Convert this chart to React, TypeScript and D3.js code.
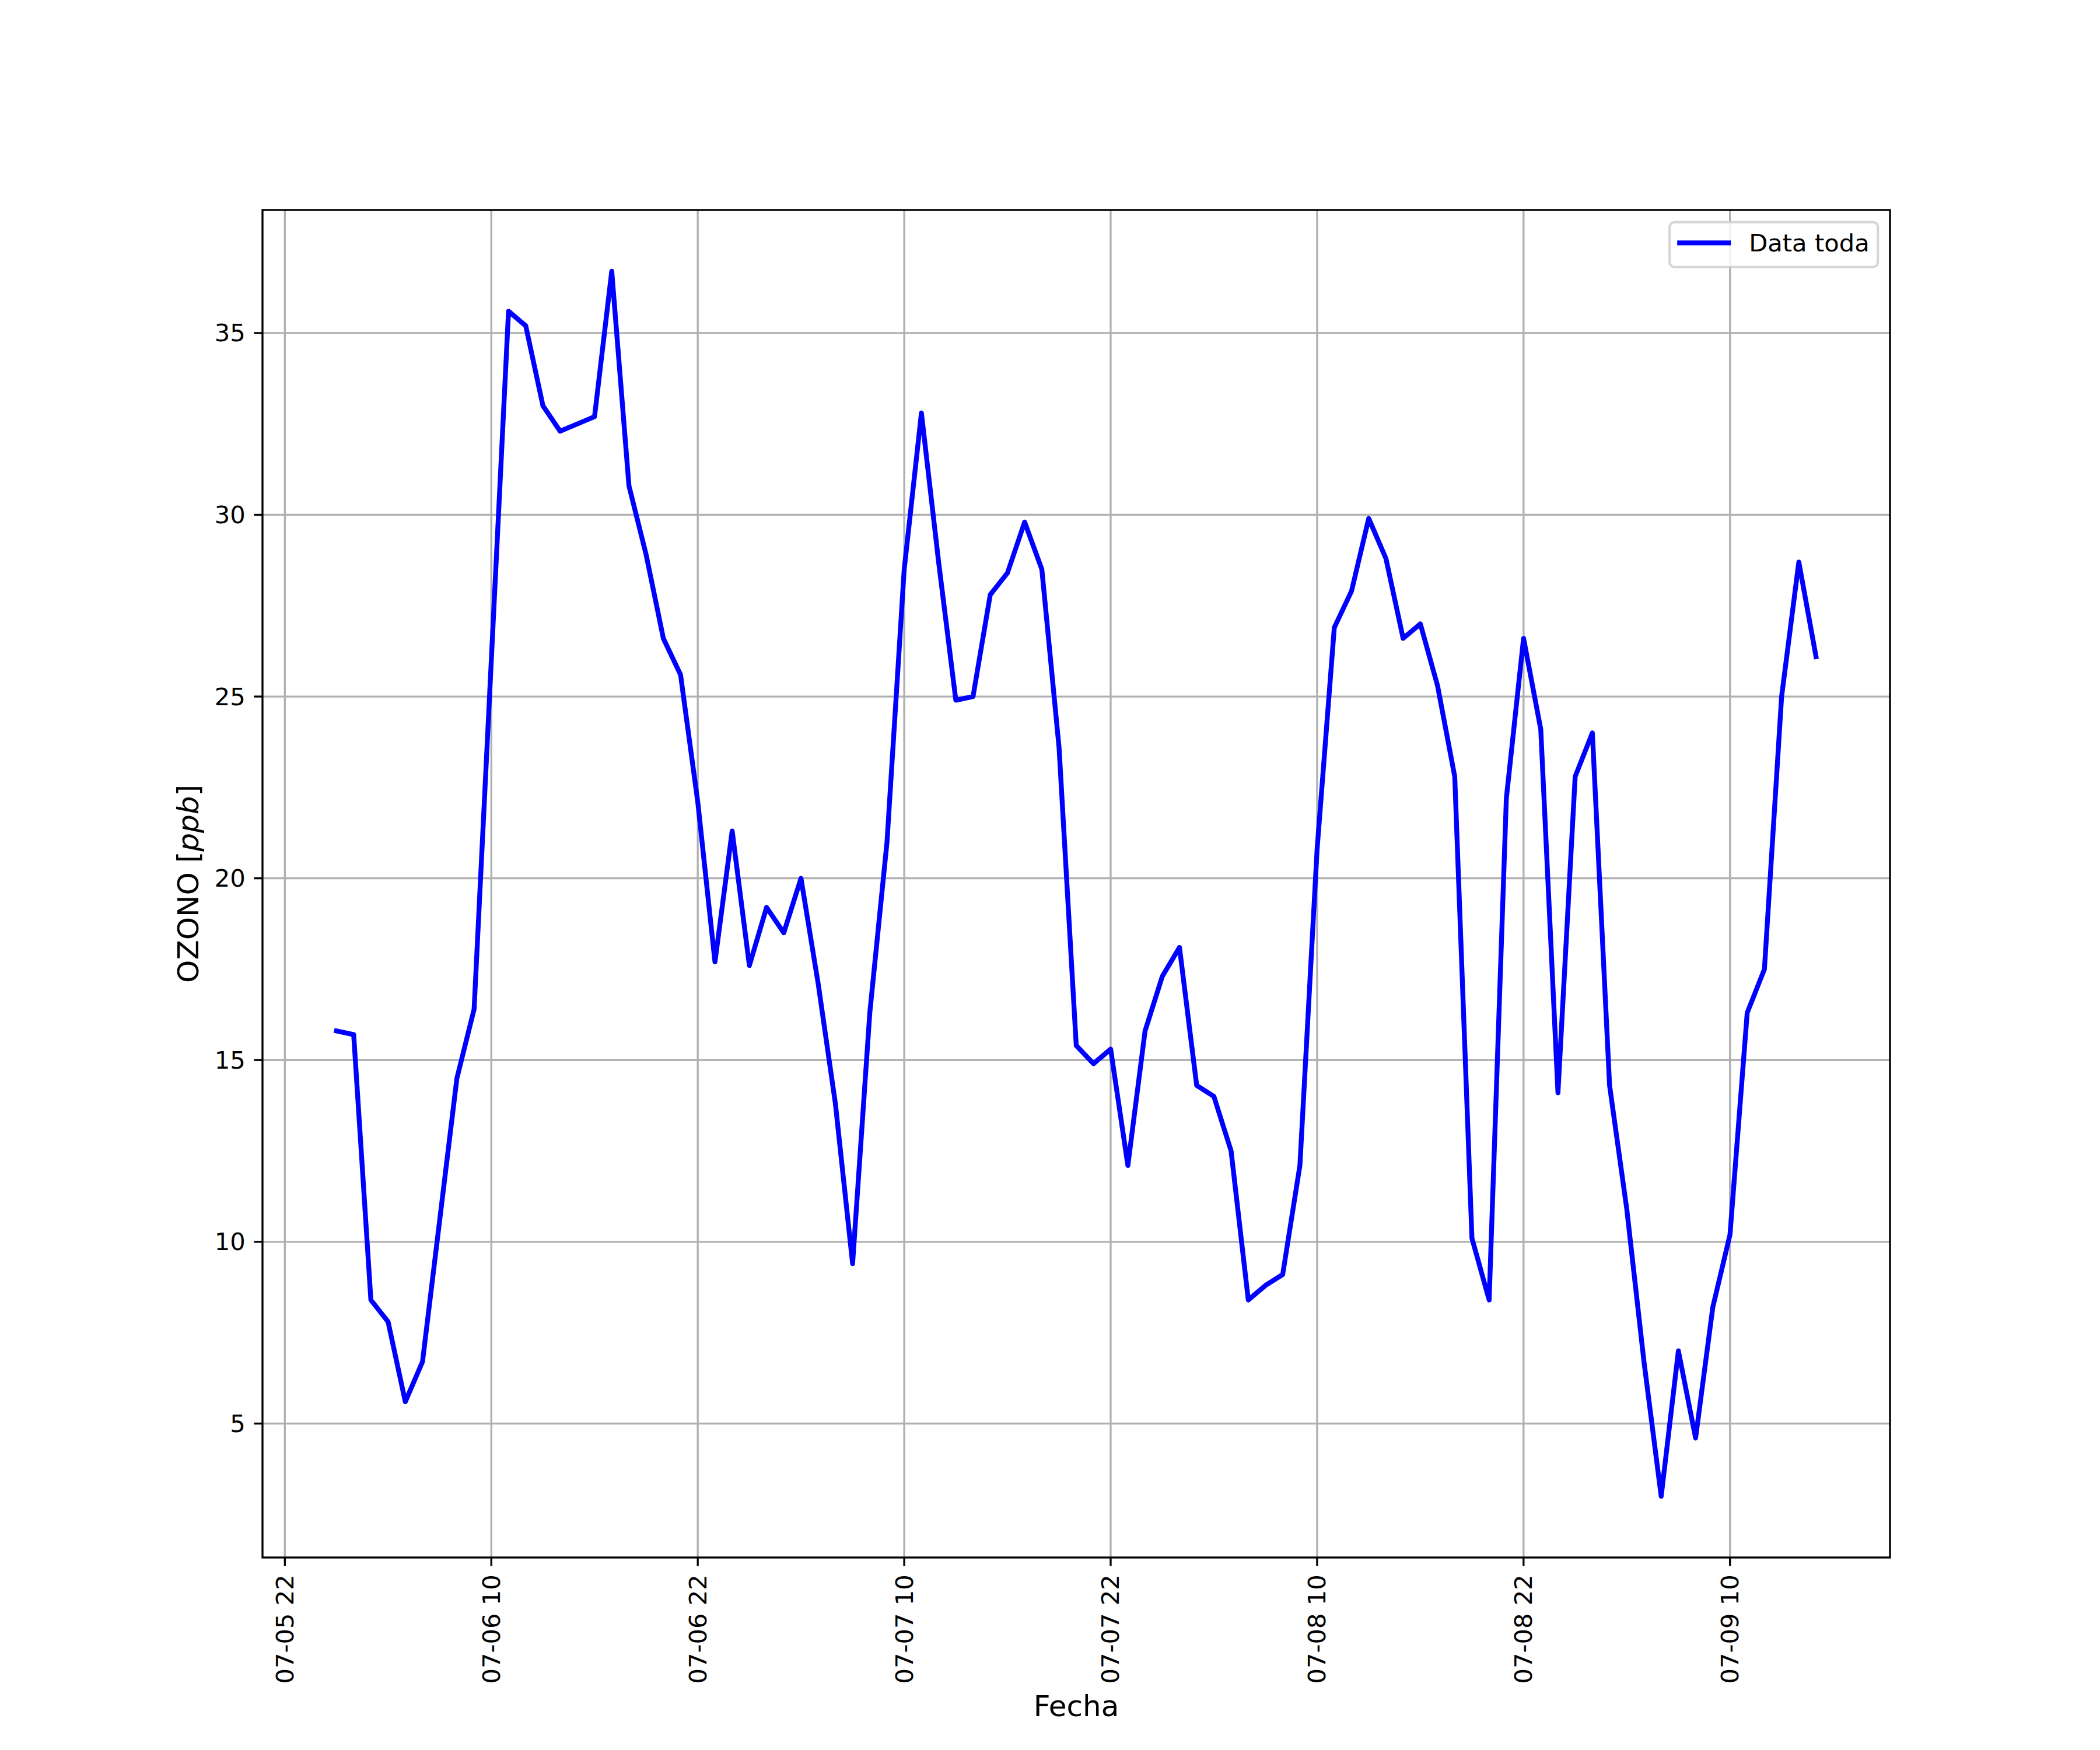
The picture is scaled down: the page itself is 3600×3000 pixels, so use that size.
import { useEffect } from 'react'
import * as d3 from 'd3'

// hourly ozone readings, first one at 07-06 01:00
const startTime = '2021-07-06 01:00'
const ozone = [
  15.8, 15.7, 8.4, 7.8, 5.6, 6.7, 10.6, 14.5, 16.4, 26.0,
  35.6, 35.2, 33.0, 32.3, 32.5, 32.7, 36.7, 30.8, 28.9, 26.6,
  25.6, 22.1, 17.7, 21.3, 17.6, 19.2, 18.5, 20.0, 17.1, 13.8,
  9.4, 16.3, 21.0, 28.5, 32.8, 28.7, 24.9, 25.0, 27.8, 28.4,
  29.8, 28.5, 23.6, 15.4, 14.9, 15.3, 12.1, 15.8, 17.3, 18.1,
  14.3, 14.0, 12.5, 8.4, 8.8, 9.1, 12.1, 20.8, 26.9, 27.9,
  29.9, 28.8, 26.6, 27.0, 25.3, 22.8, 10.1, 8.4, 22.2, 26.6,
  24.1, 14.1, 22.8, 24.0, 14.3, 10.9, 6.7, 3.0, 7.0, 4.6,
  8.2, 10.2, 16.3, 17.5, 25.0, 28.7, 26.1,
]
const xTickLabels = ['07-05 22', '07-06 10', '07-06 22', '07-07 10', '07-07 22', '07-08 10', '07-08 22', '07-09 10']
const yTicks = [5, 10, 15, 20, 25, 30, 35]
const seriesName = 'Data toda'

const W = 3600
const H = 3000
const left = 450
const right = 3240
const top = 360
const bottom = 2670
const fs = 41.67 // 10pt @ 300dpi
const labelFs = 50 // 12pt
const font = '"DejaVu Sans", sans-serif'

const parse = d3.timeParse('%Y-%m-%d %H:%M')
const t0 = parse(startTime)!
const points = ozone.map((v, i) => ({ t: d3.timeHour.offset(t0, i), v }))
const tickDates = xTickLabels.map(s => d3.timeParse('%Y-%m-%d %H')(`2021-${s}`)!)

export default function App() {
  useEffect(() => {
    document.body.style.margin = '0'
  }, [])

  const [tMin, tMax] = d3.extent(points, d => d.t) as [Date, Date]
  const tPad = (+tMax - +tMin) * 0.05
  const x = d3.scaleTime()
    .domain([new Date(+tMin - tPad), new Date(+tMax + tPad)])
    .range([left, right])

  const [vMin, vMax] = d3.extent(points, d => d.v) as [number, number]
  const vPad = (vMax - vMin) * 0.05
  const y = d3.scaleLinear().domain([vMin - vPad, vMax + vPad]).range([bottom, top])

  const line = d3.line<{ t: Date; v: number }>()
    .x(d => x(d.t))
    .y(d => y(d.v))

  const fmt = d3.timeFormat('%m-%d %H')
  const gridColor = '#b0b0b0'
  const lw = 3.33

  // legend box
  const lgRight = right - 20.8
  const lgTop = top + 20.8
  const lgW = 357
  const lgH = 77

  return (
    <svg width={W} height={H} style={{ display: 'block', background: '#fff' }} fontFamily={font}>
      <rect x={0} y={0} width={W} height={H} fill="#fff" />
      {/* grid */}
      <g stroke={gridColor} strokeWidth={lw}>
        {tickDates.map((d, i) => (
          <line key={'gx' + i} x1={x(d)} x2={x(d)} y1={top} y2={bottom} />
        ))}
        {yTicks.map(v => (
          <line key={'gy' + v} x1={left} x2={right} y1={y(v)} y2={y(v)} />
        ))}
      </g>

      {/* data */}
      <path d={line(points)!} fill="none" stroke="#0000ff" strokeWidth={8.33}
        strokeLinejoin="round" strokeLinecap="square" />

      {/* spines */}
      <rect x={left} y={top} width={right - left} height={bottom - top}
        fill="none" stroke="#000" strokeWidth={lw} />

      {/* x ticks */}
      <g>
        {tickDates.map((d, i) => (
          <g key={'tx' + i} transform={`translate(${x(d)},${bottom})`}>
            <line y1={0} y2={14.6} stroke="#000" strokeWidth={lw} />
            <text transform="translate(0,29.2) rotate(-90)" textAnchor="end"
              dominantBaseline="central" fontSize={fs} fill="#000">{fmt(d)}</text>
          </g>
        ))}
      </g>

      {/* y ticks */}
      <g>
        {yTicks.map(v => (
          <g key={'ty' + v} transform={`translate(${left},${y(v)})`}>
            <line x1={0} x2={-14.6} stroke="#000" strokeWidth={lw} />
            <text x={-29.2} textAnchor="end" dominantBaseline="central"
              fontSize={fs} fill="#000">{v}</text>
          </g>
        ))}
      </g>

      {/* axis labels */}
      <text x={(left + right) / 2} y={2942} textAnchor="middle" fontSize={labelFs} fill="#000">Fecha</text>
      <text transform={`translate(340,${(top + bottom) / 2}) rotate(-90)`} textAnchor="middle"
        fontSize={labelFs} fill="#000">
        OZONO [<tspan fontStyle="italic">ppb</tspan>]
      </text>

      {/* legend */}
      <g>
        <rect x={lgRight - lgW} y={lgTop} width={lgW} height={lgH} rx={8.3} ry={8.3}
          fill="#fff" fillOpacity={0.8} stroke="#cccccc" strokeOpacity={0.8} strokeWidth={4.17} />
        <line x1={lgRight - lgW + 13} x2={lgRight - lgW + 105} y1={lgTop + 35.5} y2={lgTop + 35.5}
          stroke="#0000ff" strokeWidth={8.33} />
        <text x={lgRight - lgW + 136} y={lgTop + 35.5} dominantBaseline="central"
          fontSize={fs} fill="#000">{seriesName}</text>
      </g>
    </svg>
  )
}
